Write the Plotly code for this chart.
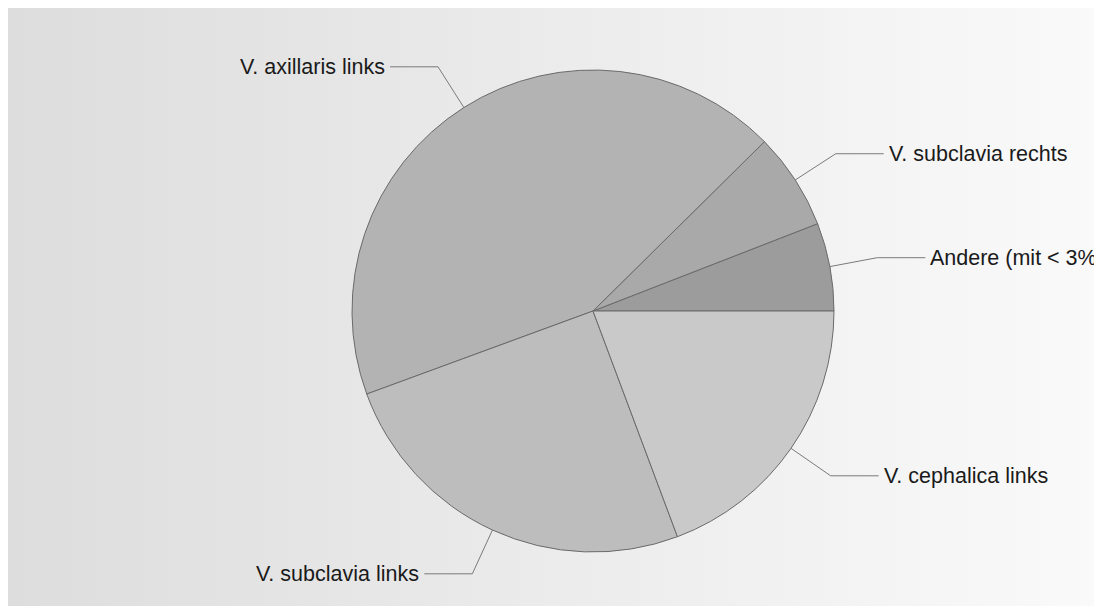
import math
import base64
import plotly.graph_objects as go

# ---- data ----
labels = ["Andere (mit < 3%)", "V. subclavia rechts", "V. axillaris links",
          "V. subclavia links", "V. cephalica links"]
values = [5.9, 6.5, 43.2, 25.1, 19.3]
colors = ["#9c9c9c", "#a9a9a9", "#b3b3b3", "#bdbdbd", "#c9c9c9"]

# ---- layout constants (pixels, figure coordinates) ----
W, H = 1094, 606
CX, CY, R = 585, 303, 241
ELBOW = 1.2 * R
HSEG = 48

dom_x = [(CX - R) / W, (CX + R) / W]
dom_y = [(H - CY - R) / H, (H - CY + R) / H]

total = sum(values)
# plotly places the first slice so that it *ends* at the rotation angle when
# drawing counterclockwise; shift so the first slice starts at 3 o'clock
rotation = 90 - 360 * values[0] / total

fig = go.Figure()
fig.add_trace(go.Pie(
    labels=labels, values=values, sort=False,
    direction="counterclockwise", rotation=rotation,
    marker=dict(colors=colors, line=dict(color="#6a6a6a", width=1)),
    textinfo="none", hoverinfo="label+percent", showlegend=False,
    domain=dict(x=dom_x, y=dom_y),
))

cum = 0.0
annotations = []
for lab, v in zip(labels, values):
    mid = 2 * math.pi * (cum + v / 2) / total
    cum += v
    c, s = math.cos(mid), math.sin(mid)
    ex, ey = CX + R * c, CY - R * s
    bx, by = CX + ELBOW * c, CY - ELBOW * s
    side = 1 if c >= 0 else -1
    hx = bx + side * HSEG
    fig.add_trace(go.Scatter(
        x=[ex, bx, hx], y=[ey, by, by], mode="lines",
        line=dict(color="#7a7a7a", width=1), hoverinfo="skip",
        showlegend=False, xaxis="x", yaxis="y"))
    annotations.append(dict(
        x=hx + side * 3, y=by, xref="x", yref="y",
        text=lab.replace("<", "&lt;"), showarrow=False,
        xanchor="left" if side > 0 else "right", yanchor="middle",
        font=dict(family="Liberation Sans, Arial, sans-serif", size=21.5, color="#1a1a1a")))

svg = ('<svg xmlns="http://www.w3.org/2000/svg" width="100" height="100" preserveAspectRatio="none">'
       '<defs><linearGradient id="g" x1="0" y1="0" x2="1" y2="0">'
       '<stop offset="0" stop-color="#dddddd"/><stop offset="1" stop-color="#fafafa"/>'
       '</linearGradient></defs><rect width="100" height="100" fill="url(#g)"/></svg>')
src = "data:image/svg+xml;base64," + base64.b64encode(svg.encode()).decode()

fig.update_layout(
    width=W, height=H, autosize=False,
    margin=dict(l=0, r=0, t=0, b=0),
    paper_bgcolor="white", plot_bgcolor="rgba(0,0,0,0)",
    xaxis=dict(range=[0, W], visible=False, fixedrange=True, domain=[0, 1]),
    yaxis=dict(range=[H, 0], visible=False, fixedrange=True, domain=[0, 1]),
    annotations=annotations,
    images=[dict(source=src, xref="paper", yref="paper",
                 x=0, y=1, sizex=1, sizey=1,
                 xanchor="left", yanchor="top", sizing="stretch", layer="below")],
)

fig.write_html("out.html",
               post_script="document.body.style.marginRight='0px';"
                           "document.body.style.marginBottom='0px';"
                           "document.documentElement.style.overflow='hidden';")
